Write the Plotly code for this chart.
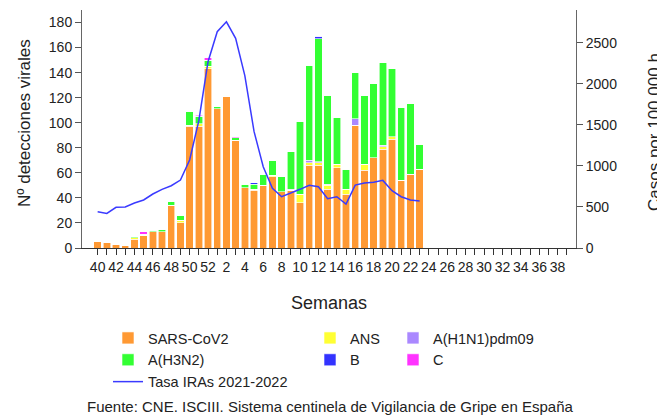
import plotly.graph_objects as go

weeks = [str(w) for w in list(range(40, 53)) + list(range(1, 40))]
tick_labels = [w if i % 2 == 0 else "" for i, w in enumerate(weeks)]

# weeks 40..23 have data, the rest of the season is empty
sars_cov2 = [5, 4, 3, 2, 7, 10, 13, 13, 34, 20, 97, 97, 143, 111, 121, 86, 48, 46,
             50, 57, 45, 46, 36, 66, 66, 47, 64, 43, 98, 62, 72, 79, 87, 54, 59, 63]
ans = [0, 0, 0, 0, 1, 0, 0, 0, 0, 2, 1, 2, 2, 0, 0, 0, 0, 1,
       0, 1, 0, 0, 7, 2, 2, 3, 3, 4, 0, 5, 0, 2, 2, 0, 0, 0]
h1n1 = [0, 0, 0, 0, 0, 0, 0, 0, 0, 0, 0, 0, 0, 0, 0, 0, 0, 0,
        0, 0, 0, 1, 0, 2, 1, 1, 0, 0, 5, 0, 0, 1, 0, 0, 0, 0]
h3n2 = [0, 0, 0, 1, 1, 1, 1, 2, 3, 4, 11, 6, 5, 2, 1, 2, 3, 4,
        9, 12, 12, 30, 58, 76, 98, 71, 37, 16, 37, 55, 59, 66, 54, 58, 56, 20]
gripe_b = [0, 0, 0, 0, 0, 0, 0, 0, 0, 0, 0, 0, 0, 0, 0, 0, 0, 1,
           0, 0, 0, 0, 0, 0, 2, 0, 0, 0, 0, 0, 0, 0, 0, 0, 0, 0]
gripe_c = [0, 0, 0, 0, 0, 2, 0, 0, 0, 0, 0, 1, 2, 0, 0, 1, 0, 0,
           0, 0, 0, 0, 0, 0, 0, 0, 0, 0, 0, 0, 0, 0, 0, 0, 0, 0]
tasa_iras = [442, 422, 496, 500, 548, 585, 658, 715, 759, 828, 1072, 1551, 2270, 2635,
             2756, 2554, 2100, 1420, 990, 727, 625, 666, 715, 763, 747, 600, 625, 536,
             767, 792, 800, 824, 698, 625, 585, 572]

n = len(sars_cov2)
x_data = weeks[:n]

series = [
    ("SARS-CoV2", sars_cov2, "#ff9933", "legend"),
    ("ANS", ans, "#ffff33", "legend2"),
    ("A(H1N1)pdm09", h1n1, "#aa88ff", "legend3"),
    ("A(H3N2)", h3n2, "#33ff33", "legend"),
    ("B", gripe_b, "#3333ff", "legend2"),
    ("C", gripe_c, "#ff33ff", "legend3"),
]
legend_rank = {"SARS-CoV2": 1, "A(H3N2)": 2, "ANS": 1, "B": 2, "A(H1N1)pdm09": 1, "C": 2}

fig = go.Figure()
for name, vals, color, leg in series:
    fig.add_trace(go.Bar(
        name=name, x=x_data, y=vals, marker_color=color,
        marker_line=dict(color="white", width=0.6),
        legend=leg, legendrank=legend_rank[name],
    ))

fig.add_trace(go.Scatter(
    name="Tasa IRAs 2021-2022", x=x_data, y=tasa_iras, yaxis="y2", mode="lines",
    line=dict(color="#3a3aff", width=1.5), legend="legend", legendrank=3,
))

# plot area in page pixels: x 82..576, y 10..248 (page has an 8px body margin)
PW, PH = 494, 238
font = dict(family="Liberation Sans, Arial, sans-serif", size=14, color="#222")
leg_common = dict(
    yanchor="top", xanchor="left", y=-(322 - 248) / PH,
    bgcolor="rgba(0,0,0,0)", font=dict(family=font["family"], size=14.5, color="#222"),
    tracegroupgap=0, itemwidth=30, traceorder="normal",
)

fig.update_layout(
    barmode="stack",
    bargap=0.2,
    width=665,
    height=419,
    plot_bgcolor="white",
    paper_bgcolor="white",
    font=font,
    margin=dict(l=74, r=97, t=2, b=179, autoexpand=False),
    xaxis=dict(
        type="category", categoryorder="array", categoryarray=weeks,
        range=[-1.7, 52.0], tickmode="array", tickvals=weeks, ticktext=tick_labels,
        ticks="outside", ticklen=6, tickcolor="#333", showline=True, linecolor="#333",
        tickangle=0, showgrid=False, zeroline=False,
    ),
    yaxis=dict(
        range=[0, 190], tickvals=list(range(0, 181, 20)), ticks="outside", ticklen=6,
        tickcolor="#555", showline=True, linecolor="#666", showgrid=False, zeroline=False,
    ),
    yaxis2=dict(
        range=[0, 2900], tickvals=list(range(0, 2501, 500)), overlaying="y", side="right",
        ticks="outside", ticklen=6, tickcolor="#555", showline=True, linecolor="#666",
        showgrid=False, zeroline=False,
    ),
    legend=dict(x=(108 - 82) / PW, **leg_common),
    legend2=dict(x=(310 - 82) / PW, **leg_common),
    legend3=dict(x=(393 - 82) / PW, **leg_common),
    showlegend=True,
)

fig.add_annotation(text="Nº detecciones virales", xref="paper", yref="paper",
                   x=-58 / PW, y=(248 - 123) / PH, textangle=-90, showarrow=False,
                   font=dict(size=17), xanchor="center", yanchor="middle")
fig.add_annotation(text="Casos por 100.000 h.", xref="paper", yref="paper",
                   x=(654 - 82) / PW, y=(248 - 130) / PH, textangle=-90, showarrow=False,
                   font=dict(size=17), xanchor="center", yanchor="middle")
fig.add_annotation(text="Semanas", xref="paper", yref="paper",
                   x=0.5, y=-(303 - 248) / PH, showarrow=False,
                   font=dict(size=18), xanchor="center", yanchor="middle")
fig.add_annotation(text="Fuente: CNE. ISCIII. Sistema centinela de Vigilancia de Gripe en España",
                   xref="paper", yref="paper", x=(330 - 82) / PW, y=-(407 - 248) / PH,
                   showarrow=False, font=dict(size=15), xanchor="center", yanchor="middle")

fig.write_html("out.html")
